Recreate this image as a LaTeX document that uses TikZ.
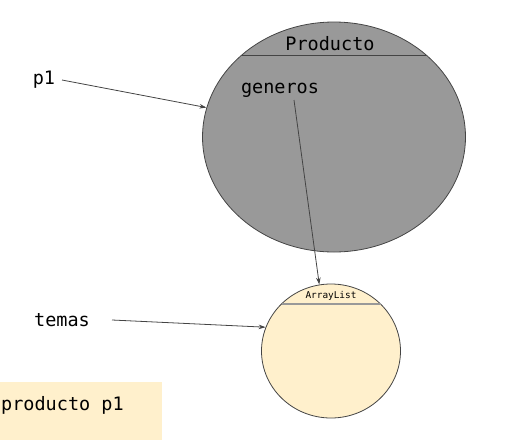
\documentclass[tikz,border=0pt]{standalone}
\usepackage{fontspec}
\setmonofont{DejaVu Sans Mono}
\usetikzlibrary{shapes.geometric,arrows.meta,calc}
\definecolor{objgray}{HTML}{999999}
\definecolor{cream}{HTML}{FFF0CC}
\definecolor{edge}{HTML}{444444}
\begin{document}
\begin{tikzpicture}[x=1pt,y=-1pt,
  lbl/.style={font=\ttfamily\fontsize{18.5}{20}\selectfont, text=black, inner sep=0pt, anchor=base},
  conn/.style={draw=edge, line width=0.8pt, -{Stealth[length=7pt,width=4.5pt]}},
  obj/.style={ellipse, draw=edge, line width=0.8pt, inner sep=0pt}]
\useasboundingbox (0,0) rectangle (507,440);
% large object
\node[obj, fill=objgray, minimum width=263pt, minimum height=230pt] (P) at (334,137) {};
\draw[edge, line width=0.8pt] (242,55) -- (426,55);
\node[lbl] (ptitle) at (330,50) {Producto};
\node[lbl] (g) at (280,93) {generos};
% small object
\node[obj, fill=cream, minimum width=139pt, minimum height=134pt] (A) at (331,351) {};
\draw[objgray, line width=1.2pt] (281.5,304) -- (380.5,304);
\node[font=\ttfamily\fontsize{9.4}{10}\selectfont, inner sep=0pt, anchor=base] (atitle) at (331,298) {ArrayList};
% variables
\node[lbl] (p1) at (44,84) {p1};
\node[lbl] (t) at (62,326) {temas};
% code box
\node[fill=cream, minimum width=162pt, minimum height=58pt, inner sep=0pt, anchor=north west] (box) at (0,382) {};
\node[lbl, anchor=base west] (code) at (1,410) {producto p1};
% connectors
\coordinate (p1s) at (62,80);
\coordinate (gs) at (294,100);
\coordinate (ts) at (112,320);
\draw[conn] (p1s) -- (P.167);
\draw[conn] (gs) -- (A.100);
\draw[conn] (ts) -- (A.160);
\end{tikzpicture}
\end{document}
